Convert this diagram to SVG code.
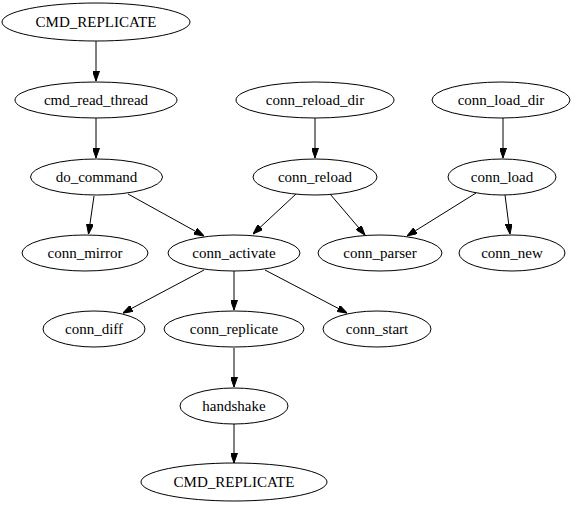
<svg xmlns="http://www.w3.org/2000/svg" width="576" height="507" viewBox="0 0 576 507" font-family="Liberation Serif, DejaVu Serif, serif">
<style>
.n ellipse{fill:#fff;stroke:#000;stroke-width:1}
.n text{font-family:"Liberation Serif","DejaVu Serif",serif;font-size:15px;text-anchor:middle;fill:#000}
#edges line{stroke:#000;stroke-width:1;marker-end:url(#ah)}
</style>
<defs>
<marker id="ah" viewBox="0 0 10 7" refX="10" refY="3.5" markerWidth="10" markerHeight="7" markerUnits="userSpaceOnUse" orient="auto">
<path d="M0,0 L10,3.5 L0,7 z" fill="#000" stroke="#000"/>
</marker>
</defs>
<rect width="576" height="507" fill="#fff"/>
<g id="edges">
<line x1="96" y1="41" x2="96" y2="81"/>
<line x1="96" y1="118" x2="96" y2="158"/>
<line x1="94" y1="196" x2="88.5" y2="234"/>
<line x1="128" y1="194" x2="204" y2="236"/>
<line x1="296" y1="194" x2="253" y2="234"/>
<line x1="330" y1="194" x2="365" y2="235"/>
<line x1="315" y1="118" x2="315" y2="158"/>
<line x1="503" y1="118" x2="503" y2="158"/>
<line x1="476" y1="193" x2="407" y2="236"/>
<line x1="505" y1="195" x2="510" y2="234"/>
<line x1="204" y1="270" x2="123" y2="313"/>
<line x1="234" y1="271" x2="234" y2="310"/>
<line x1="265" y1="270" x2="347" y2="313"/>
<line x1="234" y1="348" x2="234" y2="387"/>
<line x1="234" y1="424" x2="234" y2="463"/>
</g>
<g id="cmd_replicate_top" class="n"><ellipse cx="96" cy="22" rx="94" ry="19"/><text x="96" y="27">CMD_REPLICATE</text></g>
<g id="cmd_read_thread" class="n"><ellipse cx="96" cy="100" rx="81" ry="18"/><text x="96" y="105">cmd_read_thread</text></g>
<g id="do_command" class="n"><ellipse cx="96.5" cy="177" rx="66" ry="18"/><text x="96.5" y="182">do_command</text></g>
<g id="conn_mirror" class="n"><ellipse cx="85" cy="253" rx="63" ry="18"/><text x="85" y="258">conn_mirror</text></g>
<g id="conn_activate" class="n"><ellipse cx="234" cy="253" rx="66" ry="18"/><text x="234" y="258">conn_activate</text></g>
<g id="conn_reload_dir" class="n"><ellipse cx="315" cy="100" rx="79" ry="18"/><text x="315" y="105">conn_reload_dir</text></g>
<g id="conn_reload" class="n"><ellipse cx="315" cy="177" rx="62" ry="18"/><text x="315" y="182">conn_reload</text></g>
<g id="conn_load_dir" class="n"><ellipse cx="501" cy="100" rx="69" ry="18"/><text x="501" y="105">conn_load_dir</text></g>
<g id="conn_load" class="n"><ellipse cx="502" cy="177" rx="54" ry="18"/><text x="502" y="182">conn_load</text></g>
<g id="conn_parser" class="n"><ellipse cx="380" cy="253" rx="62" ry="18"/><text x="380" y="258">conn_parser</text></g>
<g id="conn_new" class="n"><ellipse cx="512" cy="253" rx="53" ry="18"/><text x="512" y="258">conn_new</text></g>
<g id="conn_diff" class="n"><ellipse cx="94" cy="329" rx="51" ry="18"/><text x="94" y="334">conn_diff</text></g>
<g id="conn_replicate" class="n"><ellipse cx="234" cy="329" rx="70" ry="18"/><text x="234" y="334">conn_replicate</text></g>
<g id="conn_start" class="n"><ellipse cx="377" cy="329" rx="54" ry="18"/><text x="377" y="334">conn_start</text></g>
<g id="handshake" class="n"><ellipse cx="234" cy="406" rx="54" ry="18"/><text x="234" y="411">handshake</text></g>
<g id="cmd_replicate_bottom" class="n"><ellipse cx="234" cy="482" rx="93" ry="19"/><text x="234" y="487">CMD_REPLICATE</text></g>
</svg>
